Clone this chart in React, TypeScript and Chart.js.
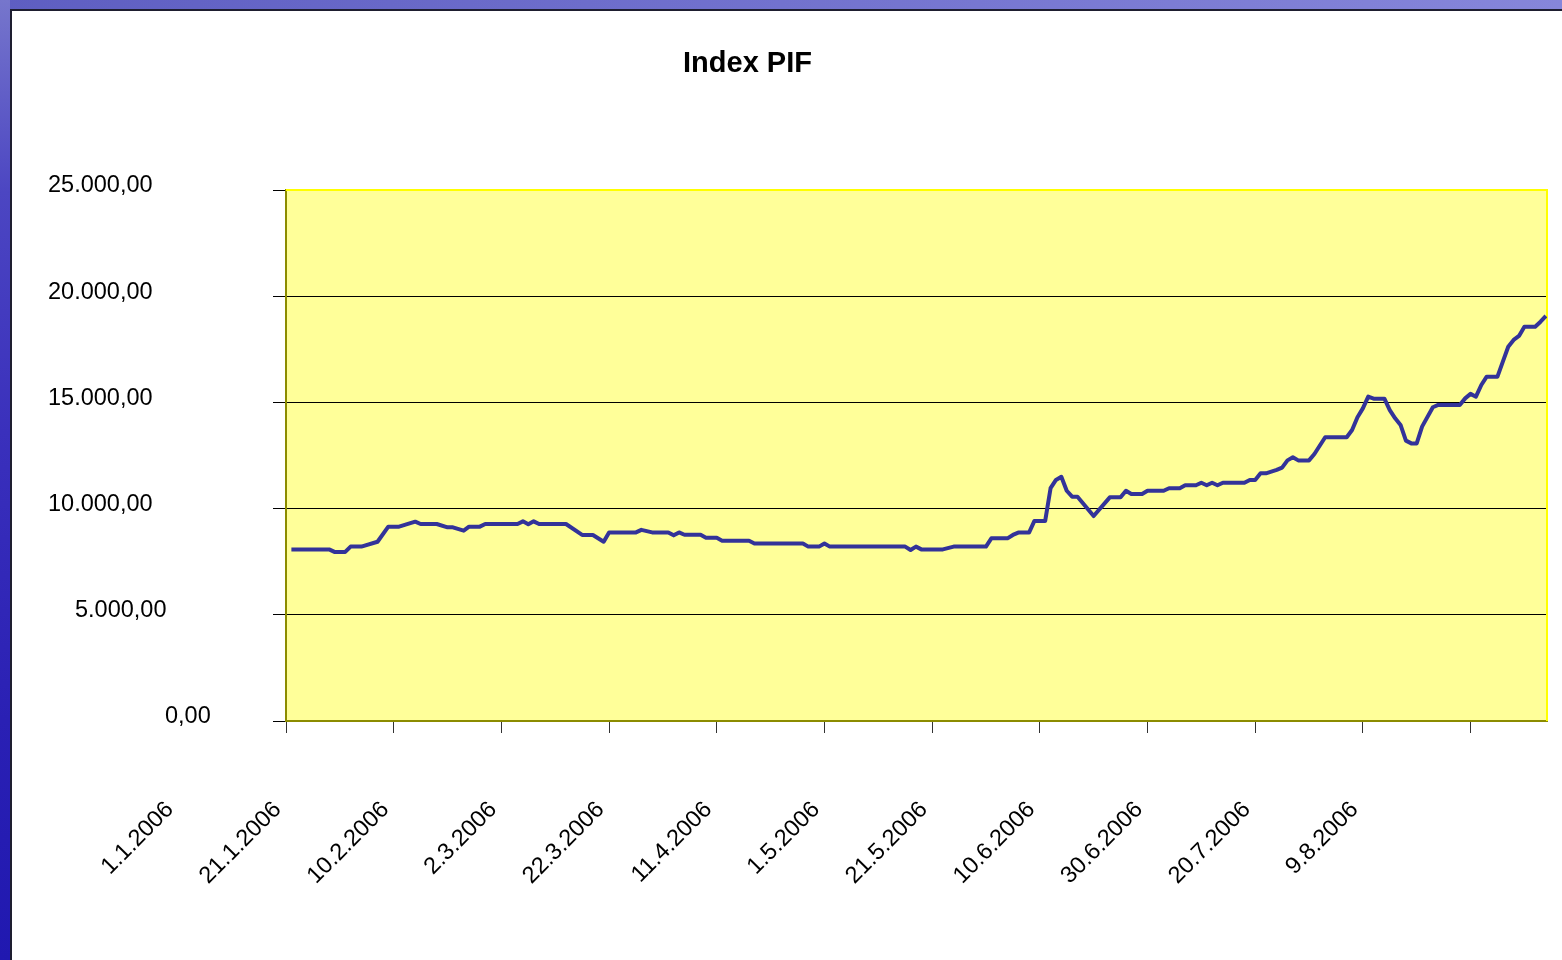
import React, { useEffect, useRef } from 'react';
import { Chart, registerables } from 'chart.js';

Chart.register(...registerables);

const TITLE = 'Index PIF';

// x axis: days since 1.1.2006, a labelled tick every 20 days
const X_TICK_LABELS = [
  '1.1.2006', '21.1.2006', '10.2.2006', '2.3.2006', '22.3.2006', '11.4.2006',
  '1.5.2006', '21.5.2006', '10.6.2006', '30.6.2006', '20.7.2006', '9.8.2006',
];
const X_TICK_STEP_DAYS = 20;
const X_MAX_DAY = 234.2;

// y axis
const Y_TICK_LABELS = ['0,00', '5.000,00', '10.000,00', '15.000,00', '20.000,00', '25.000,00'];
const Y_TICK_STEP = 5000;
const Y_MAX = 25000;

// series: day offset from 1.1.2006 and index value
const DAYS = [
  1, 8, 9, 11, 12, 14, 17, 19, 21, 24, 25, 28, 30, 31, 33, 34, 36, 37, 43, 44,
  45, 46, 47, 52, 55, 57, 59, 60, 65, 66, 68, 71, 72, 73, 74, 77, 78, 80, 81, 86,
  87, 96, 97, 99, 100, 101, 115, 116, 117, 118, 122, 124, 130, 131, 134, 135, 136, 138, 139, 141,
  142, 143, 144, 145, 146, 147, 150, 153, 155, 156, 157, 159, 160, 163, 164, 166, 167, 169, 170, 171,
  172, 173, 174, 178, 179, 180, 181, 182, 184, 185, 186, 187, 188, 190, 191, 193, 197, 198, 199, 200,
  201, 202, 204, 205, 206, 207, 208, 209, 210, 211, 213, 214, 218, 219, 220, 221, 222, 223, 225, 226,
  227, 228, 229, 230, 232, 233, 234,
];
const INDEX_VALUES = [
  8080, 8080, 7960, 7960, 8210, 8210, 8440, 9150, 9150, 9385, 9275, 9275, 9120, 9120, 8960, 9150, 9150, 9275, 9275, 9400,
  9260, 9400, 9275, 9275, 8760, 8760, 8440, 8880, 8880, 9000, 8880, 8880, 8740, 8880, 8770, 8770, 8630, 8630, 8490, 8490,
  8360, 8360, 8210, 8210, 8360, 8210, 8210, 8050, 8210, 8080, 8080, 8210, 8210, 8600, 8600, 8760, 8870, 8870, 9420, 9420,
  10960, 11350, 11500, 10840, 10560, 10560, 9650, 10530, 10530, 10840, 10690, 10690, 10840, 10840, 10960, 10960, 11100, 11100, 11220, 11100,
  11220, 11100, 11220, 11220, 11350, 11350, 11660, 11660, 11820, 11930, 12270, 12415, 12270, 12270, 12570, 13360, 13360, 13700, 14300, 14720,
  15270, 15175, 15175, 14640, 14250, 13940, 13200, 13070, 13070, 13860, 14770, 14880, 14880, 15190, 15400, 15270, 15820, 16210, 16210, 16920,
  17620, 17940, 18130, 18560, 18560, 18800, 19070,
];

const FONT = "'Liberation Sans', Arial, Helvetica, sans-serif";
const CANVAS_W = 1550;
const CANVAS_H = 949;
// left edge (canvas px) of each y label, from 0,00 up to 25.000,00
const Y_LABEL_LEFT = [153, 63, 36, 36, 36, 36];

const decorPlugin = {
  id: 'decor',
  beforeDraw(chart: any) {
    const { ctx, chartArea: a } = chart;
    ctx.save();
    ctx.fillStyle = '#FFFF99';
    ctx.fillRect(a.left, a.top, a.right - a.left, a.bottom - a.top);
    ctx.restore();
  },
  beforeDatasetsDraw(chart: any) {
    const { ctx, chartArea: a } = chart;
    ctx.save();
    ctx.strokeStyle = '#FFFF00';
    ctx.lineWidth = 2;
    ctx.beginPath();
    ctx.moveTo(a.left, a.top);
    ctx.lineTo(a.right, a.top);
    ctx.lineTo(a.right, a.bottom);
    ctx.stroke();
    ctx.restore();
  },
  afterDraw(chart: any) {
    const { ctx } = chart;
    const ys = chart.scales.y;
    ctx.save();
    ctx.fillStyle = '#000';
    ctx.font = `23.5px ${FONT}`;
    ctx.textAlign = 'left';
    ctx.textBaseline = 'middle';
    ys.ticks.forEach((t: any) => {
      const i = Math.round(t.value / Y_TICK_STEP);
      const label = Y_TICK_LABELS[i];
      if (!label) return;
      ctx.fillText(label, Y_LABEL_LEFT[i], ys.getPixelForValue(t.value) - 4);
    });
    ctx.font = `bold 29px ${FONT}`;
    ctx.textAlign = 'center';
    ctx.textBaseline = 'alphabetic';
    ctx.fillText(TITLE, 735.5, 61);
    ctx.restore();
  },
};

function IndexChart() {
  const ref = useRef<HTMLCanvasElement | null>(null);
  useEffect(() => {
    if (!ref.current) return;
    const chart = new Chart(ref.current, {
      type: 'line',
      data: {
        datasets: [
          {
            label: TITLE,
            data: DAYS.map((d, i) => ({ x: d, y: INDEX_VALUES[i] })),
            borderColor: '#333399',
            backgroundColor: '#333399',
            borderWidth: 4,
            pointRadius: 0,
            tension: 0,
            fill: false,
            borderJoinStyle: 'round',
          },
        ],
      },
      options: {
        responsive: false,
        animation: false,
        devicePixelRatio: 1,
        layout: { padding: { top: 179, left: 0, right: 15, bottom: 0 } },
        plugins: { legend: { display: false }, tooltip: { enabled: false }, title: { display: false } },
        scales: {
          x: {
            type: 'linear',
            min: 0,
            max: X_MAX_DAY,
            grid: { drawOnChartArea: false, drawTicks: true, tickLength: 12, tickColor: '#333', lineWidth: 1 },
            border: { display: true, color: '#8c8c00', width: 2 },
            ticks: {
              stepSize: X_TICK_STEP_DAYS,
              includeBounds: false,
              autoSkip: false,
              minRotation: 45,
              maxRotation: 45,
              labelOffset: -116,
              padding: 63,
              color: '#000',
              font: { family: FONT, size: 23.5 },
              callback: (v: any) => X_TICK_LABELS[Math.round(Number(v) / X_TICK_STEP_DAYS)] ?? '',
            },
            afterFit: (s: any) => { s.height = CANVAS_H - 710; },
          },
          y: {
            type: 'linear',
            min: 0,
            max: Y_MAX,
            grid: { color: '#000', lineWidth: 1, drawTicks: true, tickLength: 13, tickColor: '#000' },
            border: { display: true, color: '#8c8c00', width: 2 },
            ticks: { stepSize: Y_TICK_STEP, display: false },
            afterFit: (s: any) => { s.width = 274; },
          },
        },
      },
      plugins: [decorPlugin],
    } as any);
    return () => chart.destroy();
  }, []);
  return <canvas ref={ref} width={CANVAS_W} height={CANVAS_H} style={{ display: 'block', width: CANVAS_W, height: CANVAS_H }} />;
}

export default function App() {
  return (
    <div style={{ position: 'fixed', left: 0, top: 0, width: 1562, height: 960, overflow: 'hidden', background: '#fff' }}>
      <div style={{ position: 'absolute', left: 0, top: 0, width: 1562, height: 9, background: 'linear-gradient(to right, #5e5ec2, #7272ce 50%, #8686da)' }} />
      <div style={{ position: 'absolute', left: 0, top: 0, width: 10, height: 960, background: 'linear-gradient(to bottom, #7676cc, #4c46c2 20%, #3a30bc 45%, #2a20b4 75%, #2018b0)' }} />
      <div style={{ position: 'absolute', left: 10, top: 9, width: 1552, height: 951, boxSizing: 'border-box', borderLeft: '2px solid #1e1e30', borderTop: '2px solid #1e1e30', background: '#fff' }}>
        <IndexChart />
      </div>
    </div>
  );
}
